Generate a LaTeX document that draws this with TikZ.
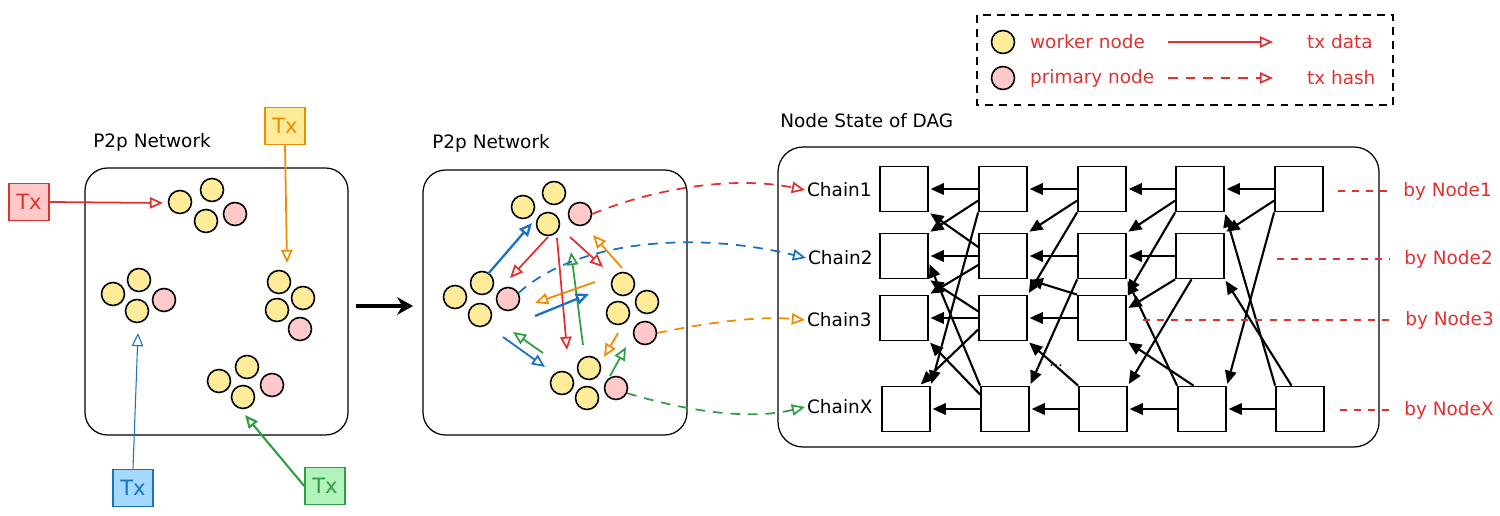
\documentclass[tikz,border=0pt]{standalone}
\usepackage{fontspec}
\setmainfont{DejaVu Sans}
\usetikzlibrary{arrows.meta}
\definecolor{cred}{HTML}{E03131}
\definecolor{corange}{HTML}{F08C00}
\definecolor{cblue}{HTML}{1971C2}
\definecolor{cgreen}{HTML}{2F9E44}
\definecolor{cyellow}{HTML}{FFEC99}
\definecolor{cpink}{HTML}{FFC9C9}
\definecolor{cltblue}{HTML}{A5D8FF}
\definecolor{cltgreen}{HTML}{B2F2BB}

\begin{document}
\begin{tikzpicture}[x=0.02cm, y=-0.02cm,
	worker/.style={circle, draw, line width=0.9pt, fill=cyellow, minimum size=0.46cm, inner sep=0pt},
	primary/.style={worker, fill=cpink},
	txbox/.style 2 args={draw=#1, fill=#2, text=#1, line width=0.9pt, minimum width=0.8cm, minimum height=0.74cm, inner sep=0pt, font=\fontsize{12}{14}\selectfont},
	panel/.style={draw, line width=0.7pt, rounded corners=0.45cm},
	dagbox/.style={draw, line width=1pt, minimum width=0.96cm, minimum height=0.9cm, inner sep=0pt},
	txdata/.style={#1, line width=1pt, -{Triangle[open, length=7.5pt, width=6.5pt]}},
	txhash/.style={#1, line width=1pt, dash pattern=on 5.5pt off 4.5pt, -{Triangle[open, length=7.5pt, width=6.5pt]}},
	dagarr/.style={line width=1.2pt, -{Triangle[length=7.5pt, width=6.5pt]}, shorten >=1pt},
	byline/.style={cred, line width=0.6pt, dash pattern=on 4pt off 4pt, shorten >=0.28cm},
	lbl/.style={font=\fontsize{10.5}{12}\selectfont, inner sep=1pt},
	redlbl/.style={lbl, text=cred},
	title/.style={font=\fontsize{10.5}{12}\selectfont, inner sep=0pt, anchor=west},
]
	\useasboundingbox (0,0) rectangle (1500,516);

	\draw[panel] (85,168) rectangle (348,435);
	\draw[panel] (423,170) rectangle (687,435);
	\draw[panel, rounded corners=0.5cm] (778,147) rectangle (1379,447);
	\node[title] (t1) at(93,142) {P2p Network};
	\node[title] (t2) at(432,143) {P2p Network};
	\node[title] (t3) at(780,121) {Node State of DAG};

	\node[worker] (lt1) at(180,202) {};
	\node[worker] (lt2) at(212,190) {};
	\node[worker] (lt3) at(206,221) {};
	\node[primary] (ltp) at(235,214) {};
	\node[worker] (ll1) at(113,294) {};
	\node[worker] (ll2) at(139,280) {};
	\node[worker] (ll3) at(137,311) {};
	\node[primary] (llp) at(164,300) {};
	\node[worker] (lr1) at(279,282) {};
	\node[worker] (lr2) at(303,298) {};
	\node[worker] (lr3) at(277,310) {};
	\node[primary] (lrp) at(300,329) {};
	\node[worker] (lb1) at(219,381) {};
	\node[worker] (lb2) at(247,367) {};
	\node[worker] (lb3) at(243,397) {};
	\node[primary] (lbp) at(272,385) {};

	\node[txbox={cred}{cpink}] (rtx) at(29,202) {Tx};
	\node[txbox={corange}{cyellow}] (otx) at(285,126) {Tx};
	\node[txbox={cblue}{cltblue}] (btx) at(133,488) {Tx};
	\node[txbox={cgreen}{cltgreen}] (gtx) at(325,486) {Tx};
	\coordinate (ra) at(163,203);
	\coordinate (oa) at(287,263);
	\coordinate (ba) at(138,333);
	\coordinate (ga) at(245,415);
	\draw[txdata=cred] (rtx.east)--(ra);
	\draw[txdata=corange] (otx.south)--(oa);
	\draw[txdata=cblue, line width=0.6pt] (btx.north)--(ba);
	\draw[txdata=cgreen, line width=1.2pt] (gtx.west)--(ga);

	\coordinate (ar1) at(356,306);
	\coordinate (ar2) at(413,306);
	\draw[line width=2pt, -{Stealth[length=9pt, width=10pt]}] (ar1)--(ar2);

	\node[worker] (mt1) at(523,207) {};
	\node[worker] (mt2) at(554,193) {};
	\node[worker] (mt3) at(548,224) {};
	\node[primary] (mtp) at(580,214) {};
	\node[worker] (ml1) at(455,297) {};
	\node[worker] (ml2) at(482,283) {};
	\node[worker] (ml3) at(480,315) {};
	\node[primary] (mlp) at(508,299) {};
	\node[worker] (mr1) at(623,284) {};
	\node[worker] (mr2) at(647,302) {};
	\node[worker] (mr3) at(618,313) {};
	\node[primary] (mrp) at(645,333) {};
	\node[worker] (mb1) at(562,383) {};
	\node[worker] (mb2) at(589,368) {};
	\node[worker] (mb3) at(587,398) {};
	\node[primary] (mbp) at(616,388) {};

	\coordinate (m1s) at(488,274); \coordinate (m1e) at(532,223);
	\coordinate (m2s) at(548,237); \coordinate (m2e) at(510,278);
	\coordinate (m3s) at(570,237); \coordinate (m3e) at(603,267);
	\coordinate (m4s) at(622,268); \coordinate (m4e) at(593,235);
	\coordinate (m5s) at(557,238); \coordinate (m5e) at(567,350);
	\coordinate (m6s) at(583,345); \coordinate (m6e) at(571,252);
	\coordinate (m7s) at(595,282); \coordinate (m7e) at(535,303);
	\coordinate (m8s) at(535,316); \coordinate (m8e) at(589,294);
	\coordinate (m9s) at(543,353); \coordinate (m9e) at(513,332);
	\coordinate (m10s) at(503,337); \coordinate (m10e) at(545,367);
	\coordinate (m11s) at(618,333); \coordinate (m11e) at(604,357);
	\coordinate (m12s) at(610,376); \coordinate (m12e) at(626,347);
	\draw[txdata=cblue, line width=1.3pt] (m1s)--(m1e);
	\draw[txdata=cred] (m2s)--(m2e);
	\draw[txdata=cred] (m3s)--(m3e);
	\draw[txdata=corange] (m4s)--(m4e);
	\draw[txdata=cred] (m5s)--(m5e);
	\draw[txdata=cgreen] (m6s)--(m6e);
	\draw[txdata=corange] (m7s)--(m7e);
	\draw[txdata=cblue, line width=1.3pt] (m8s)--(m8e);
	\draw[txdata=cgreen] (m9s)--(m9e);
	\draw[txdata=cblue] (m10s)--(m10e);
	\draw[txdata=corange] (m11s)--(m11e);
	\draw[txdata=cgreen] (m12s)--(m12e);

	\node[lbl, anchor=west] (ch1) at(805,190) {Chain1};
	\node[lbl, anchor=west] (ch2) at(806,258) {Chain2};
	\node[lbl, anchor=west] (ch3) at(805,320) {Chain3};
	\node[lbl, anchor=west] (chx) at(805,407) {ChainX};
	\draw[txhash=cred] (mtp.east) .. controls (650,190) and (730,175) .. (ch1.west);
	\draw[txhash=cblue] (mlp.30) .. controls (580,238) and (700,232) .. (ch2.west);
	\draw[txhash=corange] (mrp.east) .. controls (710,322) and (760,316) .. (ch3.west);
	\draw[txhash=cgreen] (mbp.-25) .. controls (690,412) and (750,420) .. (chx.west);

	\node[dagbox] (d11) at(904,189) {};
	\node[dagbox] (d12) at(1003,189) {};
	\node[dagbox] (d13) at(1102,189) {};
	\node[dagbox] (d14) at(1200,189) {};
	\node[dagbox] (d15) at(1299,189) {};
	\node[dagbox] (d21) at(904,256) {};
	\node[dagbox] (d22) at(1003,256) {};
	\node[dagbox] (d23) at(1102,256) {};
	\node[dagbox] (d24) at(1200,256) {};
	\node[dagbox] (d31) at(904,318) {};
	\node[dagbox] (d32) at(1003,318) {};
	\node[dagbox] (d33) at(1102,318) {};
	\node[dagbox] (dx1) at(906,409) {};
	\node[dagbox] (dx2) at(1005,409) {};
	\node[dagbox] (dx3) at(1103,409) {};
	\node[dagbox] (dx4) at(1202,409) {};
	\node[dagbox] (dx5) at(1300,409) {};
	\node[font=\fontsize{8}{10}\selectfont] (dots) at(1056,366) {...};

	\draw[dagarr] (d12.west)--(d11.east);
	\draw[dagarr] (d13.west)--(d12.east);
	\draw[dagarr] (d14.west)--(d13.east);
	\draw[dagarr] (d15.west)--(d14.east);
	\draw[dagarr] (d22.west)--(d21.east);
	\draw[dagarr] (d23.west)--(d22.east);
	\draw[dagarr] (d24.west)--(d23.east);
	\draw[dagarr] (d32.west)--(d31.east);
	\draw[dagarr] (d33.west)--(d32.east);
	\draw[dagarr] (dx2.west)--(dx1.east);
	\draw[dagarr] (dx3.west)--(dx2.east);
	\draw[dagarr] (dx4.west)--(dx3.east);
	\draw[dagarr] (dx5.west)--(dx4.east);

	\draw[dagarr] (d12.205)--(d21.north east);
	\draw[dagarr] (d22.160)--(d11.south east);
	\draw[dagarr] (d12.south west)--(dx1.north east);
	\draw[dagarr] (d22.200)--(d31.north east);
	\draw[dagarr] (d32.165)--(d21.south east);
	\draw[dagarr] (d32.205)--(dx1.60);
	\draw[dagarr] (dx2.150)--(d31.south east);
	\draw[dagarr] (dx2.north west)--(d21.-15);
	\draw[dagarr] (d13.205)--(d22.north east);
	\draw[dagarr] (d13.south west)--(d32.north east);
	\draw[dagarr] (d33.north west)--(d22.south east);
	\draw[dagarr] (dx3.north west)--(d32.south east);
	\draw[dagarr] (d23.south west)--(dx2.north east);
	\draw[dagarr] (d14.205)--(d23.north east);
	\draw[dagarr] (d14.south west)--(d33.north east);
	\draw[dagarr] (d24.south west)--(d33.20);
	\draw[dagarr] (d24.250)--(dx3.north east);
	\draw[dagarr] (dx4.north west)--(d23.south east);
	\draw[dagarr] (dx4.110)--(d33.south east);
	\draw[dagarr] (d15.205)--(d24.north east);
	\draw[dagarr] (d15.south west)--(dx4.north east);
	\draw[dagarr] (dx5.north west)--(d14.south east);
	\draw[dagarr] (dx5.110)--(d24.south east);

	\node[redlbl, anchor=west, inner sep=0pt] (by1) at(1403,191) {by Node1};
	\node[redlbl, anchor=west, inner sep=0pt] (by2) at(1404,259) {by Node2};
	\node[redlbl, anchor=west, inner sep=0pt] (by3) at(1405,320) {by Node3};
	\node[redlbl, anchor=west, inner sep=0pt] (byx) at(1404,410) {by NodeX};
	\coordinate (h1) at(1338,191);
	\coordinate (h2) at(1277,259);
	\coordinate (h3) at(1143,320);
	\coordinate (hx) at(1340,410);
	\draw[byline] (h1)--(by1.west);
	\draw[byline] (h2)--(by2.west);
	\draw[byline] (h3)--(by3.west);
	\draw[byline] (hx)--(byx.west);

	\draw[line width=0.6pt, dash pattern=on 4.5pt off 3.5pt] (977,15) rectangle (1393,105);
	\node[worker] (lw) at(1003,42) {};
	\node[primary] (lp) at(1003,78) {};
	\node[redlbl, anchor=west] (lwt) at(1028,42) {worker node};
	\node[redlbl, anchor=west] (lpt) at(1028,78) {primary node};
	\coordinate (la1) at(1168,42);
	\coordinate (la2) at(1273,42);
	\coordinate (lb1) at(1168,78);
	\coordinate (lb2) at(1273,78);
	\draw[txdata=cred] (la1)--(la2);
	\draw[txhash=cred] (lb1)--(lb2);
	\node[redlbl, anchor=west] (ltd) at(1305,42) {tx data};
	\node[redlbl, anchor=west] (lth) at(1305,78) {tx hash};
\end{tikzpicture}
\end{document}
